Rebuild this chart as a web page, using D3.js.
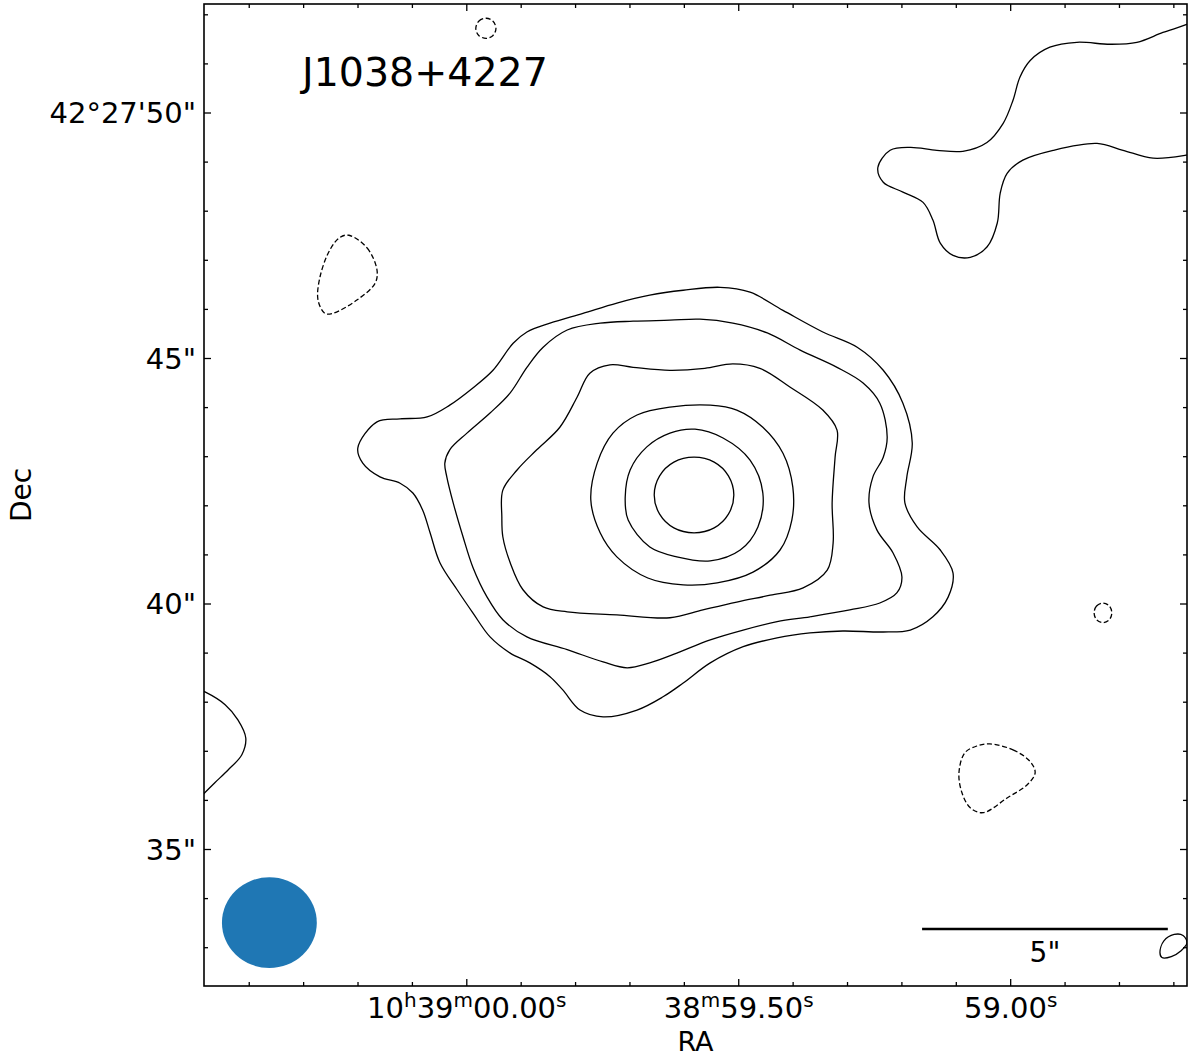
<!DOCTYPE html>
<html>
<head>
<meta charset="utf-8">
<script src="https://cdn.jsdelivr.net/npm/d3@7"></script>
<style>
  html, body { margin: 0; padding: 0; background: #fff; }
  svg { display: block; font-family: "DejaVu Sans", sans-serif; }
</style>
</head>
<body>
<svg id="chart" width="1200" height="1058"></svg>
<script>
// ---------------- DATA (arcsec offsets from image centre: dx = east, dy = north) -------------
const sourceName = "J1038+4227";
const ra0Sec = 59.5795;           // RA centre: 10h38m59.5795s
const dec0Arcsec = 42.22;         // Dec centre: 42°27'42.22"
const dec0Deg = 42 + 27 / 60 + 42.22 / 3600;

const raMajorTicks = [60.0, 59.5, 59.0];
const raTickLabels = ["10^h39^m00.00^s", "38^m59.50^s", "59.00^s"];
const raMinorTicks = [60.4, 60.3, 60.2, 60.1, 59.9, 59.8, 59.7, 59.6, 59.4, 59.3, 59.2, 59.1, 58.9, 58.8, 58.7];

const decMajorTicks = [50, 45, 40, 35];
const decTickLabels = ["42°27'50\"", "45\"", "40\"", "35\""];
const decMinorTicks = [52, 51, 49, 48, 47, 46, 44, 43, 42, 41, 39, 38, 37, 36, 34, 33];

// positive (solid) closed contours, outermost to innermost
const contour1 = [[6.87,0.96],[6.48,1.49],[6.01,1.55],[5.46,1.59],[5.00,1.83],[4.53,2.18],[4.12,2.54],[3.71,3.09],[3.43,3.32],[2.96,3.50],[2.29,3.70],[1.60,3.91],[0.93,4.07],[0.25,4.17],[-0.50,4.23],[-1.11,4.13],[-1.78,3.76],[-2.59,3.32],[-3.29,3.01],[-3.82,2.54],[-4.22,1.87],[-4.41,1.06],[-4.30,0.37],[-4.26,-0.16],[-4.51,-0.65],[-4.98,-1.12],[-5.24,-1.59],[-5.14,-2.08],[-4.83,-2.48],[-4.37,-2.75],[-3.82,-2.79],[-3.00,-2.77],[-2.33,-2.81],[-1.66,-2.91],[-0.97,-3.09],[-0.30,-3.42],[0.25,-3.83],[0.66,-4.11],[1.19,-4.38],[1.88,-4.52],[2.35,-4.38],[2.70,-3.97],[2.96,-3.70],[3.37,-3.42],[3.77,-3.22],[4.18,-2.89],[4.53,-2.40],[4.85,-1.93],[5.20,-1.38],[5.40,-0.77],[5.55,-0.31],[5.75,0.04],[6.01,0.24],[6.42,0.37],[6.77,0.65]];
const contour2 = [[5.10,0.65],[5.00,0.92],[4.65,1.26],[4.18,1.67],[3.77,2.08],[3.43,2.60],[3.10,3.01],[2.61,3.36],[1.94,3.50],[1.27,3.54],[0.52,3.56],[-0.09,3.58],[-0.76,3.50],[-1.46,3.30],[-2.13,2.95],[-2.88,2.60],[-3.41,2.28],[-3.75,1.87],[-3.90,1.18],[-3.82,0.77],[-3.61,0.37],[-3.53,-0.16],[-3.69,-0.71],[-4.02,-1.18],[-4.20,-1.67],[-4.10,-1.99],[-3.75,-2.20],[-3.14,-2.34],[-2.33,-2.48],[-1.66,-2.58],[-0.97,-2.75],[-0.30,-2.95],[0.38,-3.22],[0.93,-3.42],[1.39,-3.52],[1.88,-3.40],[2.61,-3.15],[3.43,-2.89],[3.92,-2.54],[4.24,-2.08],[4.53,-1.47],[4.73,-0.85],[4.93,-0.16],[5.06,0.37]];
const contour3 = [[3.94,-0.45],[3.92,0.10],[3.63,0.51],[3.23,0.92],[2.76,1.38],[2.41,1.99],[2.15,2.48],[1.74,2.65],[1.27,2.60],[0.52,2.54],[-0.19,2.58],[-0.76,2.67],[-1.31,2.58],[-1.92,2.20],[-2.59,1.73],[-2.88,1.32],[-2.84,0.77],[-2.78,-0.16],[-2.80,-0.98],[-2.68,-1.53],[-2.19,-1.89],[-1.52,-2.04],[-0.84,-2.18],[-0.15,-2.34],[0.52,-2.50],[1.60,-2.44],[2.61,-2.38],[3.10,-2.28],[3.51,-1.93],[3.77,-1.38],[3.92,-0.85]];
const contour4 = [[2.13,-0.10],[2.00,0.65],[1.68,1.26],[1.19,1.63],[0.52,1.79],[-0.30,1.83],[-0.84,1.73],[-1.37,1.38],[-1.78,0.85],[-1.98,0.16],[-1.96,-0.51],[-1.72,-1.12],[-1.17,-1.57],[-0.44,-1.79],[0.25,-1.83],[0.97,-1.69],[1.60,-1.26],[1.94,-0.77]];
const contour5 = [[1.43,-0.04],[1.33,0.51],[0.99,0.98],[0.52,1.26],[0.01,1.34],[-0.56,1.16],[-1.11,0.71],[-1.37,0.04],[-1.27,-0.65],[-0.91,-1.12],[-0.30,-1.34],[0.38,-1.26],[0.93,-1.06],[1.37,-0.51]];
const contour6 = [[0.84,0.00],[0.73,0.39],[0.44,0.67],[0.03,0.77],[-0.38,0.67],[-0.67,0.39],[-0.78,0.00],[-0.67,-0.39],[-0.38,-0.67],[0.03,-0.77],[0.44,-0.67],[0.73,-0.39]];
const noiseBlobSE = [[-9.45,-9.32],[-9.53,-9.08],[-9.74,-8.95],[-9.92,-8.97],[-10.00,-9.12],[-9.88,-9.28],[-9.68,-9.40],[-9.49,-9.42]];

// positive (solid) contours crossing the image edge
const edgeContourNE = [[-10.16,9.67],[-9.98,9.58],[-9.51,9.42],[-8.98,9.22],[-8.44,9.18],[-7.76,9.22],[-7.21,9.12],[-6.81,8.85],[-6.60,8.51],[-6.46,8.04],[-6.26,7.57],[-5.93,7.18],[-5.44,7.00],[-4.91,7.02],[-4.37,7.08],[-3.96,7.02],[-3.71,6.67],[-3.82,6.37],[-4.22,6.17],[-4.63,5.96],[-4.83,5.60],[-4.98,5.13],[-5.24,4.88],[-5.59,4.84],[-5.93,5.05],[-6.14,5.54],[-6.20,6.15],[-6.34,6.55],[-6.66,6.82],[-7.28,7.02],[-8.17,7.16],[-8.70,7.02],[-9.31,6.86],[-9.98,6.92],[-10.16,6.96]];
const edgeContourE = [[10.19,-3.93],[9.98,-4.01],[9.57,-4.27],[9.31,-4.58],[9.15,-4.95],[9.23,-5.29],[9.51,-5.60],[9.78,-5.86],[9.98,-6.06],[10.16,-6.25]];

// negative (dashed) contours
const negTop = [[4.47,9.50],[4.41,9.65],[4.26,9.71],[4.12,9.65],[4.06,9.50],[4.12,9.36],[4.26,9.30],[4.41,9.36]];
const negWest = [[7.05,5.29],[6.68,5.03],[6.48,4.58],[6.52,4.31],[6.89,3.97],[7.38,3.70],[7.54,3.70],[7.68,3.97],[7.64,4.44],[7.44,4.99],[7.23,5.25]];
const negSmallE = [[-8.11,-2.40],[-8.16,-2.26],[-8.29,-2.20],[-8.42,-2.26],[-8.47,-2.40],[-8.42,-2.54],[-8.29,-2.60],[-8.16,-2.54]];
const negSE = [[-5.99,-5.07],[-6.46,-5.19],[-6.81,-5.43],[-6.91,-5.66],[-6.75,-5.90],[-6.34,-6.17],[-5.85,-6.47],[-5.59,-6.37],[-5.42,-6.06],[-5.36,-5.66],[-5.48,-5.25],[-5.73,-5.11]];

const positiveClosed = [contour1, contour2, contour3, contour4, contour5, contour6, noiseBlobSE];
const positiveOpen = [edgeContourNE, edgeContourE];
const negativeClosed = [negTop, negWest, negSmallE, negSE];

// restoring beam (arcsec) and scale bar
const beamMajor = 1.93, beamMinor = 1.85;
const beamCentre = [8.67, -8.71];
const scaleBarLength = 5;           // arcsec
const scaleBarLabel = "5\"";

// ---------------- DRAWING ----------------
const svg = d3.select("#chart");
const L = 204, T = 4, R = 1187, B = 986;
const x = d3.scaleLinear().domain([10, -10]).range([L, R]);
const y = d3.scaleLinear().domain([10, -10]).range([T, B]);

const raToOff = s => (s - ra0Sec) * 15 * Math.cos(dec0Deg * Math.PI / 180);
const decToOff = d => d - dec0Arcsec;

svg.append("defs").append("clipPath").attr("id", "plotclip")
  .append("rect").attr("x", L).attr("y", T).attr("width", R - L).attr("height", B - T);

const plot = svg.append("g").attr("clip-path", "url(#plotclip)");

const closedLine = d3.line().x(d => x(d[0])).y(d => y(d[1])).curve(d3.curveCatmullRomClosed.alpha(0.5));
const openLine = d3.line().x(d => x(d[0])).y(d => y(d[1])).curve(d3.curveCatmullRom.alpha(0.5));

plot.selectAll("path.pos").data(positiveClosed).join("path")
  .attr("class", "pos").attr("d", closedLine)
  .attr("fill", "none").attr("stroke", "#000").attr("stroke-width", 1.3);
plot.selectAll("path.posopen").data(positiveOpen).join("path")
  .attr("class", "posopen").attr("d", openLine)
  .attr("fill", "none").attr("stroke", "#000").attr("stroke-width", 1.3);
plot.selectAll("path.neg").data(negativeClosed).join("path")
  .attr("class", "neg").attr("d", closedLine)
  .attr("fill", "none").attr("stroke", "#000").attr("stroke-width", 1.3)
  .attr("stroke-dasharray", "5,2.6");

// beam
plot.append("ellipse")
  .attr("cx", x(beamCentre[0])).attr("cy", y(beamCentre[1]))
  .attr("rx", Math.abs(x(beamMajor / 2) - x(0)))
  .attr("ry", Math.abs(y(beamMinor / 2) - y(0)))
  .attr("fill", "#1f77b4");

// scale bar
const sbRight = -9.61, sbY = -8.84;
svg.append("line")
  .attr("x1", x(sbRight + scaleBarLength)).attr("x2", x(sbRight))
  .attr("y1", y(sbY)).attr("y2", y(sbY))
  .attr("stroke", "#000").attr("stroke-width", 2.6);
svg.append("text")
  .attr("x", x(sbRight + scaleBarLength / 2)).attr("y", y(sbY) + 33)
  .attr("text-anchor", "middle").attr("font-size", 28).text(scaleBarLabel);

// title
svg.append("text").attr("x", 302).attr("y", 86).attr("font-size", 39.5).text(sourceName);

// frame
svg.append("rect").attr("x", L).attr("y", T).attr("width", R - L).attr("height", B - T)
  .attr("fill", "none").attr("stroke", "#000").attr("stroke-width", 1.6);

// ticks (inward on all four sides)
const tickG = svg.append("g").attr("stroke", "#000").attr("stroke-width", 1.3);
function xTicks(vals, len) {
  vals.forEach(v => {
    const px = x(raToOff(v));
    tickG.append("line").attr("x1", px).attr("x2", px).attr("y1", B).attr("y2", B - len);
    tickG.append("line").attr("x1", px).attr("x2", px).attr("y1", T).attr("y2", T + len);
  });
}
function yTicks(vals, len) {
  vals.forEach(v => {
    const py = y(decToOff(v));
    tickG.append("line").attr("x1", L).attr("x2", L + len).attr("y1", py).attr("y2", py);
    tickG.append("line").attr("x1", R).attr("x2", R - len).attr("y1", py).attr("y2", py);
  });
}
xTicks(raMajorTicks, 7); xTicks(raMinorTicks, 4);
yTicks(decMajorTicks, 7); yTicks(decMinorTicks, 4);

// tick labels
decMajorTicks.forEach((v, i) => {
  svg.append("text").attr("x", L - 8).attr("y", y(decToOff(v)))
    .attr("dy", "0.36em").attr("text-anchor", "end").attr("font-size", 29)
    .text(decTickLabels[i]);
});
raMajorTicks.forEach((v, i) => {
  const t = svg.append("text").attr("x", x(raToOff(v))).attr("y", B + 32)
    .attr("text-anchor", "middle").attr("font-size", 29);
  const parts = raTickLabels[i].split("^");
  parts.forEach((p, j) => {
    if (j === 0) { t.append("tspan").text(p); return; }
    t.append("tspan").attr("font-size", 20).attr("dy", -11).text(p[0]);
    if (p.length > 1) t.append("tspan").attr("dy", 11).text(p.slice(1));
  });
});

// axis labels
svg.append("text").attr("x", (L + R) / 2).attr("y", 1051).attr("text-anchor", "middle")
  .attr("font-size", 27).text("RA");
svg.append("text").attr("transform", `translate(31,${(T + B) / 2}) rotate(-90)`)
  .attr("text-anchor", "middle").attr("font-size", 28).text("Dec");
</script>
</body>
</html>
